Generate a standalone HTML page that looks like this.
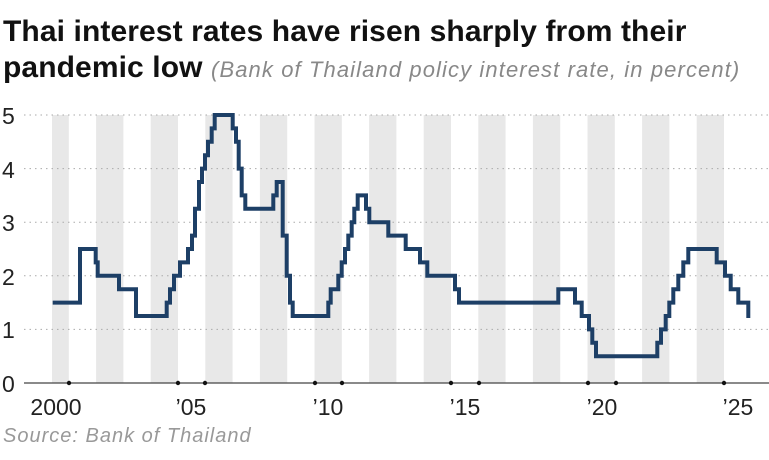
<!DOCTYPE html>
<html><head><meta charset="utf-8"><style>
html,body{margin:0;padding:0;background:#fff;}
body{width:769px;height:460px;overflow:hidden;position:relative;font-family:"Liberation Sans",sans-serif;}
.t{position:absolute;left:3px;font-weight:bold;font-size:30px;color:#111;letter-spacing:0.1px;white-space:nowrap;}
.sub{font-weight:normal;font-style:italic;color:#888;font-size:22px;letter-spacing:1.1px;}
.src{position:absolute;left:3px;top:425px;font-style:italic;color:#999;font-size:20px;letter-spacing:1px;}
</style></head><body>
<div class="t" style="top:15px">Thai interest rates have risen sharply from their</div>
<div class="t" style="top:51px">pandemic low <span class="sub">(Bank of Thailand policy interest rate, in percent)</span></div>
<svg id="s" width="769" height="460" style="position:absolute;left:0;top:0">
<g id="bands" fill="#e8e8e8"></g>
<g id="grid" stroke="#aaa" stroke-width="1" stroke-dasharray="1.5,4"></g>
<line x1="24" y1="383" x2="769" y2="383" stroke="#444" stroke-width="1.2"/>
<g id="dots" fill="#111"></g>
<path id="p" fill="none" stroke="#1d3f66" stroke-width="4" stroke-linejoin="miter"/>
<g font-family="Liberation Sans, sans-serif" font-size="23" fill="#222">
<text x="2" y="124">5</text><text x="2" y="178">4</text><text x="2" y="231">3</text>
<text x="2" y="285">2</text><text x="2" y="338">1</text><text x="2" y="392">0</text>
<text x="56" y="415" text-anchor="middle">2000</text>
<text x="191" y="415" text-anchor="middle">’05</text>
<text x="328" y="415" text-anchor="middle">’10</text>
<text x="465" y="415" text-anchor="middle">’15</text>
<text x="602" y="415" text-anchor="middle">’20</text>
<text x="738" y="415" text-anchor="middle">’25</text>
</g>
</svg>
<div class="src">Source: Bank of Thailand</div>
<script>
var NS="http://www.w3.org/2000/svg";
function el(g,t,a){var e=document.createElementNS(NS,t);for(var k in a)e.setAttribute(k,a[k]);document.getElementById(g).appendChild(e);}
function X(y){return 41.5+27.3*(y-2000);}
el("bands","rect",{x:52,y:115,width:X(2001)-52,height:268});
for(var y=2002;y<=2024;y+=2)el("bands","rect",{x:X(y),y:115,width:27.3,height:268});
function Y(v){return 383-v*53.6;}
for(var v=1;v<=5;v++)el("grid","line",{x1:24,x2:769,y1:Y(v),y2:Y(v)});
[69,178,205,315,342,451,479,588,616,724].forEach(function(x){el("dots","circle",{cx:x,cy:383,r:2.2});});
var d=[[52.7,1.5],[80,2.5],[95.7,2.25],[97.7,2],[119,1.75],[136,1.25],[166.7,1.5],[170,1.75],[174,2],[180,2.25],[188,2.5],[192,2.75],[195,3.25],[199,3.75],[202,4],[205,4.25],[208,4.5],[211.7,4.75],[214.7,5],[232.7,4.75],[236,4.5],[238.7,4],[241.7,3.5],[245.3,3.25],[273.3,3.5],[276.7,3.75],[282.7,2.75],[286.7,2],[290,1.5],[292.7,1.25],[328.3,1.5],[330.7,1.75],[338.3,2],[341.7,2.25],[345,2.5],[348.3,2.75],[351.7,3],[354.3,3.25],[357.7,3.5],[366,3.25],[369.3,3],[388.3,2.75],[405.7,2.5],[420,2.25],[427.3,2],[455,1.75],[459,1.5],[558.3,1.75],[575,1.5],[581.7,1.25],[589,1],[592.3,0.75],[596,0.5],[657.3,0.75],[661,1],[665.7,1.25],[669.3,1.5],[673.3,1.75],[678.3,2],[683.3,2.25],[688.3,2.5],[716.7,2.25],[725,2],[730.7,1.75],[738.3,1.5],[748.3,1.25]];
var s="M"+d[0][0]+" "+Y(d[0][1]);
for(var i=1;i<d.length;i++){s+=" H"+d[i][0]+" V"+Y(d[i][1]);}
s+=" V"+(Y(1.25)+2);
document.getElementById("p").setAttribute("d",s);
</script>
</body></html>
